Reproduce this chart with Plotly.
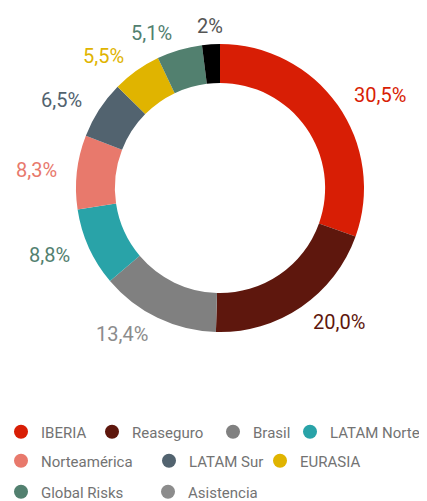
import numpy as np
import plotly.graph_objects as go

# the page body has an 8px margin, so the figure starts 8px in from the window corner
PAGE_OFF = 8
W, H = 427 - PAGE_OFF, 501 - PAGE_OFF

# Data
regions = ["IBERIA", "Reaseguro", "Brasil", "LATAM Norte", "Norteamérica",
           "LATAM Sur", "EURASIA", "Global Risks", "Asistencia"]
shares = [30.5, 20.0, 13.4, 8.8, 8.3, 6.5, 5.5, 5.1, 2]
share_labels = ["30,5%", "20,0%", "13,4%", "8,8%", "8,3%", "6,5%", "5,5%", "5,1%", "2%"]

slice_colors = ["#D81E05", "#5E170D", "#808080", "#29A3A8", "#E8796C",
                "#52636F", "#E0B400", "#52806F", "#000000"]
legend_colors = ["#D81E05", "#5E170D", "#808080", "#29A3A8", "#E8796C",
                 "#52636F", "#E0B400", "#52806F", "#8C8C8C"]
label_colors = ["#D81E05", "#5E170D", "#8C8C8C", "#52806F", "#E8796C",
                "#52636F", "#E0B400", "#52806F", "#555555"]

FONT = "Roboto"

# layout: legend entry positions in window pixels (symbol centre x, row centre y)
legend_pos = [(21, 432), (112, 432), (233, 432), (310, 432),
              (21, 461), (169, 461), (280, 461),
              (21, 492), (168, 492)]


def px_to_paper(x, y):
    return (x - PAGE_OFF) / W, 1 - (y - PAGE_OFF) / H


# pie geometry (window pixels)
cx_px, cy_px, r_px = 220, 188, 144
x0, y1 = px_to_paper(cx_px - r_px, cy_px + r_px)
x1, y0 = px_to_paper(cx_px + r_px, cy_px - r_px)

fig = go.Figure()
fig.add_trace(go.Pie(
    labels=regions,
    values=shares,
    sort=False,
    direction="clockwise",
    rotation=0,
    hole=0.73,
    textinfo="none",
    marker=dict(colors=slice_colors, line=dict(width=0)),
    domain=dict(x=[x0, x1], y=[y1, y0]),
    showlegend=False,
))

# one single-entry legend per region so each circle sits where the reference has it
legend_style = dict(orientation="h", xanchor="left", yanchor="middle",
                    font=dict(family=FONT, size=15, color="#737373"),
                    itemsizing="trace", bgcolor="rgba(0,0,0,0)")
layout_legends = {}
for i, (name, col, (lx, ly)) in enumerate(zip(regions, legend_colors, legend_pos)):
    lid = "legend" if i == 0 else f"legend{i + 1}"
    fig.add_trace(go.Scatter(
        x=[None], y=[None], mode="markers", name=name,
        marker=dict(size=14, color=col),
        legend=lid, showlegend=True,
    ))
    px_, py_ = px_to_paper(lx - 20, ly)
    layout_legends[lid] = dict(x=px_, y=py_, **legend_style)

# percentage labels around the ring, at the middle angle of each slice
total = sum(shares)
cum = np.cumsum([0] + shares[:-1])
label_r = 162
for v, c0, txt, col in zip(shares, cum, share_labels, label_colors):
    ang = np.deg2rad((c0 + v / 2) / total * 360)
    s, c = np.sin(ang), np.cos(ang)
    ax, ay = px_to_paper(cx_px + s * label_r, cy_px - c * label_r)
    xa = "center" if abs(s) < 0.1 else ("left" if s > 0 else "right")
    fig.add_annotation(
        x=ax, y=ay, xref="paper", yref="paper",
        text=txt, showarrow=False, xanchor=xa, yanchor="middle",
        font=dict(family=FONT, size=20, color=col),
    )

fig.update_layout(
    width=W, height=H,
    margin=dict(l=0, r=0, t=0, b=0, autoexpand=False),
    paper_bgcolor="white",
    plot_bgcolor="white",
    xaxis=dict(visible=False),
    yaxis=dict(visible=False),
    **layout_legends,
)

fig.write_html("out.html")
